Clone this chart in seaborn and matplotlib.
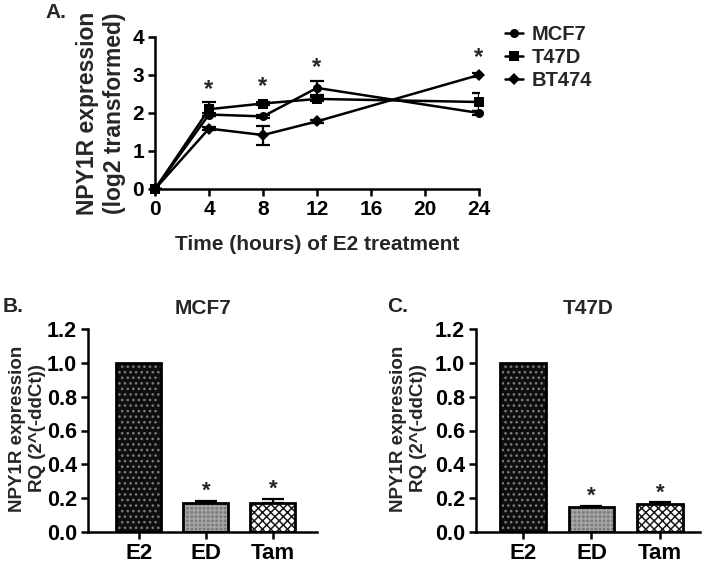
import numpy as np
import pandas as pd
import matplotlib
matplotlib.use("Agg")
import matplotlib.pyplot as plt
import seaborn as sns
from matplotlib.colors import to_rgba

# ---------------- data ----------------
hours = [0, 4, 8, 12, 24]
cell_lines = ["MCF7", "T47D", "BT474"]
mcf7_mean = [0.0, 1.96, 1.91, 2.66, 2.00]
mcf7_sem = [0.0, 0.04, 0.04, 0.19, 0.04]
t47d_mean = [0.0, 2.10, 2.25, 2.37, 2.29]
t47d_sem = [0.0, 0.18, 0.04, 0.05, 0.24]
bt474_mean = [0.0, 1.59, 1.42, 1.78, 3.00]
bt474_sem = [0.0, 0.04, 0.25, 0.04, 0.04]
sig_hours = [4, 8, 12, 24]
sig_y = [2.62, 2.70, 3.20, 3.46]

treatments = ["E2", "ED", "Tam"]
mcf7_rq = [1.0, 0.17, 0.17]
mcf7_rq_err = [0.0, 0.015, 0.025]
mcf7_sig = ["", "*", "*"]
t47d_rq = [1.0, 0.15, 0.165]
t47d_rq_err = [0.0, 0.006, 0.012]
t47d_sig = ["", "*", "*"]

# ---------------- style ----------------
sns.set_theme(style="ticks")
plt.rcParams["font.family"] = ["Liberation Sans", "DejaVu Sans"]
plt.rcParams["font.weight"] = "bold"
plt.rcParams["axes.labelweight"] = "bold"
plt.rcParams["axes.titleweight"] = "bold"
plt.rcParams["hatch.linewidth"] = 1.1

LW = 1.8
fig = plt.figure(figsize=(7.08, 5.64), dpi=100)
W, H = 708, 564


def axes_px(left, top, right, bottom):
    return fig.add_axes([left / W, 1 - bottom / H, (right - left) / W, (bottom - top) / H])


def style_axes(ax, xsize, ysize):
    sns.despine(ax=ax)
    for s in ("left", "bottom"):
        ax.spines[s].set_linewidth(LW)
        ax.spines[s].set_color("black")
    ax.tick_params(direction="out", length=5, width=LW, colors="black", pad=3)
    ax.tick_params(axis="x", labelsize=xsize)
    ax.tick_params(axis="y", labelsize=ysize)
    for lab in ax.get_xticklabels() + ax.get_yticklabels():
        lab.set_fontweight("bold")


# ---------------- panel A ----------------
axA = axes_px(155, 37, 479, 189)
df = pd.DataFrame({
    "hour": hours * 3,
    "value": mcf7_mean + t47d_mean + bt474_mean,
    "line": sum([[c] * len(hours) for c in cell_lines], []),
})
sns.lineplot(data=df, x="hour", y="value", hue="line", style="line",
             hue_order=cell_lines, style_order=cell_lines,
             palette=["black"] * 3, markers={"MCF7": "o", "T47D": "s", "BT474": "D"},
             dashes=False, linewidth=1.8, markersize=6.5, markeredgewidth=0,
             ax=axA, clip_on=False, legend=True)
for mean, sem in [(mcf7_mean, mcf7_sem), (t47d_mean, t47d_sem), (bt474_mean, bt474_sem)]:
    axA.errorbar(hours, mean, yerr=sem, fmt="none", ecolor="black",
                 elinewidth=1.6, capsize=5, capthick=1.6, zorder=1)
for h, y in zip(sig_hours, sig_y):
    axA.text(h, y, "*", ha="center", va="center", fontsize=17, fontweight="bold")

axA.set_xlim(0, 24)
axA.set_ylim(0, 4)
axA.set_xticks([0, 4, 8, 12, 16, 20, 24])
axA.set_yticks([0, 1, 2, 3, 4])
style_axes(axA, 15, 15)
axA.set_xlabel("Time (hours) of E2 treatment", fontsize=15, fontweight="bold")
axA.set_ylabel("NPY1R expression\n(log2 transformed)", fontsize=16.5,
               fontweight="bold", linespacing=1.2)
axA.xaxis.set_label_coords(0.5, -0.30)
axA.yaxis.set_label_coords(-0.09, 0.5)

handles, labels = axA.get_legend_handles_labels()
axA.legend(handles, labels, loc="upper left", bbox_to_anchor=(1.08, 1.08),
           frameon=False, handlelength=0.9, handletextpad=0.45, labelspacing=0.2,
           borderaxespad=0, borderpad=0, prop=dict(weight="bold", size=14.5))

# ---------------- bar panels ----------------
bar_styles = {
    "E2": dict(face="#0e0e0e", hatch="...", hcolor="#7a7a7a"),
    "ED": dict(face="#7c7c7c", hatch="++++", hcolor="#a6a6a6"),
    "Tam": dict(face="white", hatch="xxxx", hcolor="#1a1a1a"),
}


def bar_panel(ax, values, errs, sigs, title, xlim):
    bdf = pd.DataFrame({"treatment": treatments, "rq": values})
    sns.barplot(data=bdf, x="treatment", y="rq", order=treatments, width=0.67,
                color="white", errorbar=None, ax=ax, zorder=2)
    for patch, t in zip(ax.patches, treatments):
        st = bar_styles[t]
        patch.set_facecolor(st["face"])
        patch.set_edgecolor("black")
        patch.set_linewidth(2.0)
        patch.set_hatch(st["hatch"])
        patch._hatch_color = to_rgba(st["hcolor"])
    idx = [i for i, e in enumerate(errs) if e > 0]
    ax.errorbar([i for i in idx], [values[i] for i in idx],
                yerr=[[0] * len(idx), [errs[i] for i in idx]], fmt="none",
                ecolor="black", elinewidth=1.6, capsize=8, capthick=1.6, zorder=1)
    for i, s in enumerate(sigs):
        if s:
            ax.text(i, values[i] + errs[i] + 0.055, s, ha="center", va="center",
                    fontsize=16, fontweight="bold")
    ax.set_ylim(0, 1.2)
    ax.set_yticks([0, 0.2, 0.4, 0.6, 0.8, 1.0, 1.2])
    ax.set_yticklabels([f"{v:.1f}" for v in [0, 0.2, 0.4, 0.6, 0.8, 1.0, 1.2]])
    ax.set_xlim(*xlim)
    style_axes(ax, 16, 15.5)
    ax.set_xlabel("")
    ax.set_ylabel("NPY1R expression\nRQ (2^(-ddCt))", fontsize=13.5,
                  fontweight="bold", linespacing=1.2)
    ax.set_title(title, fontsize=15, fontweight="bold", pad=11)


axB = axes_px(88, 329, 317, 532)
bar_panel(axB, mcf7_rq, mcf7_rq_err, mcf7_sig, "MCF7", (-0.76, 2.66))
axB.yaxis.set_label_coords(-0.185, 0.51)

axC = axes_px(476, 329, 700, 532)
bar_panel(axC, t47d_rq, t47d_rq_err, t47d_sig, "T47D", (-0.686, 2.584))
axC.yaxis.set_label_coords(-0.22, 0.51)

# panel letters
fig.text(45 / W, 1 - 13 / H, "A.", fontsize=15, fontweight="bold", va="center", ha="left")
fig.text(3 / W, 1 - 307 / H, "B.", fontsize=15, fontweight="bold", va="center", ha="left")
fig.text(387 / W, 1 - 307 / H, "C.", fontsize=15, fontweight="bold", va="center", ha="left")

fig.savefig("out.png", dpi=100)
